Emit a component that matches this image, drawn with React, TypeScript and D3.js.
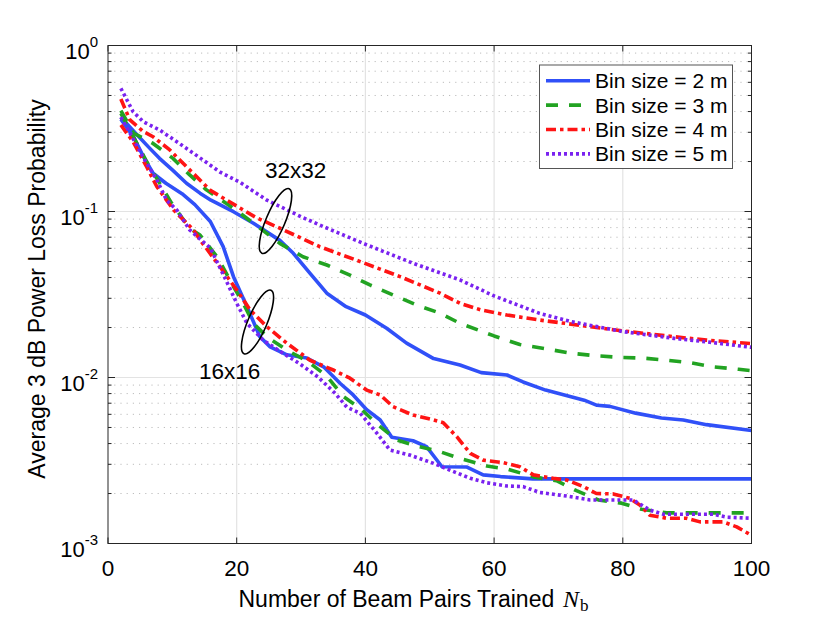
import React from 'react';
import * as d3 from 'd3';

type P = [number, number];

const xTicks = [0, 20, 40, 60, 80, 100];
const yDecades = [-3, -2, -1, 0];
const legendLabels = ['Bin size = 2 m', 'Bin size = 3 m', 'Bin size = 4 m', 'Bin size = 5 m'];
const groupLabels = ['32x32', '16x16'];

// 32x32 antenna arrays
const blue32: P[] = [[2,0.37],[4.5,0.29],[6.5,0.24],[8,0.209],[10,0.178],[12.2,0.148],[14.3,0.129],[16,0.117],[19.5,0.0997],[22.6,0.085],[26.7,0.067],[28.8,0.056],[31.4,0.0424],[34,0.0322],[37,0.0267],[40,0.0238],[43.3,0.0198],[46.4,0.0161],[50.6,0.013],[54.7,0.0119],[58,0.0107],[62,0.01035],[64.5,0.0094],[68,0.0084],[74,0.0073],[76,0.0068],[78,0.0067],[82,0.0061],[86,0.0057],[89.4,0.00555],[93,0.0052],[100,0.0048]];
const green32: P[] = [[2,0.405],[4,0.296],[7,0.257],[10.1,0.209],[12.7,0.166],[15.3,0.135],[19.5,0.1046],[22.6,0.085],[26.7,0.0643],[30.3,0.0534],[34,0.0476],[37.6,0.0414],[40.7,0.0361],[44.3,0.0314],[48,0.0273],[51.6,0.0244],[54.7,0.0212],[60,0.0178],[64,0.0158],[68.4,0.0148],[72,0.014],[76,0.0135],[80,0.0132],[83,0.0131],[87,0.0127],[90.4,0.0123],[94,0.0116],[98,0.0112],[100,0.011]];
const red32: P[] = [[2,0.476],[3.4,0.356],[5.5,0.303],[7,0.282],[9.6,0.235],[12.2,0.186],[14.8,0.148],[15.9,0.134],[20.5,0.105],[23,0.092],[26.8,0.079],[32.9,0.0614],[39.2,0.0499],[45.4,0.0405],[51.6,0.0322],[54.7,0.028],[58,0.0255],[62,0.0238],[67,0.0222],[71,0.0212],[75,0.0202],[80,0.0191],[88,0.0176],[93,0.0168],[100,0.016]];
const purple32: P[] = [[2,0.552],[3.9,0.399],[5.5,0.347],[8,0.31],[10.7,0.263],[13.3,0.224],[15.9,0.19],[17.5,0.172],[20.5,0.15],[24.7,0.117],[27.2,0.105],[30,0.093],[33.5,0.081],[40.2,0.063],[47.4,0.0488],[54.7,0.0387],[60,0.031],[67,0.0244],[72,0.0217],[80,0.0189],[88,0.0172],[93,0.0164],[100,0.0152]];

// 16x16 antenna arrays
const blue16: P[] = [[2,0.36],[4,0.28],[5.5,0.214],[7,0.17],[9,0.148],[11.5,0.128],[13.5,0.11],[15.9,0.087],[17.9,0.0614],[19.5,0.0405],[21.6,0.0267],[23.6,0.0176],[25.2,0.0153],[27.8,0.0137],[30.9,0.0131],[33.5,0.0116],[36.1,0.0092],[38.1,0.00785],[40.2,0.0064],[42.3,0.00555],[44.1,0.00436],[47.4,0.00416],[49.5,0.00383],[51.9,0.0029],[55.7,0.00289],[58.3,0.00259],[61,0.00253],[66,0.00245],[100,0.00245]];
const green16: P[] = [[2,0.39],[4,0.28],[6,0.2],[9.9,0.112],[12.7,0.079],[14.3,0.0722],[17.1,0.0523],[19.5,0.0353],[21,0.028],[22.6,0.0212],[24.7,0.0176],[27.8,0.0146],[30.9,0.0126],[34,0.0102],[36.6,0.00766],[39.2,0.00652],[42,0.00517],[44.9,0.0042],[48,0.00387],[51.6,0.00357],[55.2,0.00321],[58.9,0.00293],[62.2,0.0028],[66.1,0.00252],[69.7,0.00239],[72.8,0.00208],[76.2,0.00183],[79.8,0.00175],[82.9,0.00161],[86.8,0.00153],[100,0.00153]];
const red16: P[] = [[2,0.332],[3.9,0.263],[6,0.186],[7.6,0.141],[10.2,0.102],[13.3,0.0774],[14.3,0.0674],[17.4,0.0465],[20,0.0337],[22.1,0.0255],[24.7,0.0202],[27.8,0.0161],[31.4,0.0127],[35,0.0111],[37.6,0.0099],[40.2,0.0084],[42.3,0.00785],[44.3,0.00667],[47.4,0.00594],[50.6,0.00555],[52.1,0.00534],[54.2,0.0044],[56.3,0.00349],[58.3,0.00318],[61.4,0.00307],[64,0.0029],[66.1,0.00259],[69.2,0.00247],[71.3,0.00241],[73.9,0.0022],[75.9,0.002],[78.5,0.00199],[81.1,0.00187],[82.7,0.0017],[84.2,0.00148],[86.8,0.00142],[89.9,0.00142],[92,0.00135],[95.6,0.00135],[97.7,0.00126],[100,0.00112]];
const purple16: P[] = [[2,0.37],[4,0.27],[6,0.195],[7.6,0.155],[9.1,0.117],[10.7,0.102],[12.7,0.0774],[15.9,0.0603],[18.4,0.0381],[20,0.028],[21.6,0.0212],[24.1,0.0168],[27.2,0.014],[29.8,0.0121],[32.6,0.0101],[35.3,0.00803],[37.1,0.00664],[39.2,0.00609],[41.8,0.00461],[43.8,0.00366],[46.9,0.00341],[50.6,0.00304],[53.1,0.00277],[56.3,0.00247],[58.9,0.00232],[62,0.00222],[64.5,0.0022],[67.1,0.00203],[71.3,0.00193],[74.9,0.00183],[81.6,0.00183],[84.2,0.00159],[86.3,0.0015],[94.1,0.0015],[96.2,0.00144],[100,0.00142]];

const FONT = "'Liberation Sans', Arial, Helvetica, sans-serif";
const styles = [
  { color: '#3050f8', dash: 'none' },
  { color: '#22a322', dash: '12,11' },
  { color: '#ff1414', dash: '10,4,3.5,4' },
  { color: '#7a22f0', dash: '3,3' },
];

export default function App() {
  const W = 830, H = 623;
  const L = 108, R = 751.5, T = 45.5, B = 543.5;
  const x = d3.scaleLinear().domain([0, 100]).range([L, R]);
  const y = d3.scaleLog().domain([1e-3, 1]).range([B, T]);
  const line = d3.line<P>().x(d => x(d[0])).y(d => y(d[1]));

  const minors: number[] = [];
  for (const d of [-3, -2, -1]) for (let k = 2; k <= 9; k++) minors.push(k * Math.pow(10, d));

  const seriesList = [
    { data: blue32, s: styles[0] },
    { data: green32, s: styles[1] },
    { data: red32, s: styles[2] },
    { data: purple32, s: styles[3] },
    { data: blue16, s: styles[0] },
    { data: green16, s: styles[1] },
    { data: red16, s: styles[2] },
    { data: purple16, s: styles[3] },
  ];

  const legX = 539.5, legY = 65, legW = 193, legH = 103.5, rowH = 24.4;
  const LW = 3.6;

  return (
    <svg width={W} height={H} viewBox={`0 0 ${W} ${H}`} style={{ position: 'absolute', left: 0, top: 0, background: '#fff' }} fontFamily={FONT}>
      <defs>
        <clipPath id="plotclip"><rect x={L} y={T} width={R - L} height={B - T} /></clipPath>
      </defs>
      <rect x={0} y={0} width={W} height={H} fill="#fff" />
      {minors.map((v, i) => (
        <line key={'mg' + i} x1={L} x2={R} y1={y(v)} y2={y(v)} stroke="#bdbdbd" strokeWidth={1} strokeDasharray="1.2,5" />
      ))}
      {yDecades.slice(1, 3).map(d => (
        <line key={'yg' + d} x1={L} x2={R} y1={y(Math.pow(10, d))} y2={y(Math.pow(10, d))} stroke="#e3e3e3" strokeWidth={1.2} />
      ))}
      {xTicks.slice(1, 5).map(t => (
        <line key={'xg' + t} x1={x(t)} x2={x(t)} y1={T} y2={B} stroke="#e3e3e3" strokeWidth={1.2} />
      ))}
      <g clipPath="url(#plotclip)">
        {seriesList.map((sr, i) => (
          <path key={'s' + i} d={line(sr.data) || ''} fill="none" stroke={sr.s.color} strokeWidth={LW} strokeDasharray={sr.s.dash} strokeLinejoin="round" />
        ))}
      </g>
      <rect x={L} y={T} width={R - L} height={B - T} fill="none" stroke="#262626" strokeWidth={1} />
      {yDecades.map(d => {
        const yy = y(Math.pow(10, d));
        return (
          <g key={'yt' + d}>
            <line x1={L} x2={L + 7} y1={yy} y2={yy} stroke="#262626" />
            <line x1={R} x2={R - 7} y1={yy} y2={yy} stroke="#262626" />
            <text x={98} y={yy + 13} textAnchor="end" fontSize={22} fill="#000">
              <tspan>10</tspan>
              <tspan dy={-12} fontSize={15}>{d === 0 ? '0' : '-' + Math.abs(d)}</tspan>
            </text>
          </g>
        );
      })}
      {minors.map((v, i) => (
        <g key={'mt' + i}>
          <line x1={L} x2={L + 3.5} y1={y(v)} y2={y(v)} stroke="#262626" />
          <line x1={R} x2={R - 3.5} y1={y(v)} y2={y(v)} stroke="#262626" />
        </g>
      ))}
      {xTicks.map(t => (
        <g key={'xt' + t}>
          <line x1={x(t)} x2={x(t)} y1={B} y2={B - 6} stroke="#262626" />
          <line x1={x(t)} x2={x(t)} y1={T} y2={T + 6} stroke="#262626" />
          <text x={x(t)} y={576} textAnchor="middle" fontSize={22.5} fill="#000">{t}</text>
        </g>
      ))}
      <text x={238.5} y={606.5} fontSize={23} fill="#000">Number of Beam Pairs Trained</text>
      <text x={563} y={606.5} fontSize={24} fontStyle="italic" fontFamily="'Liberation Serif', 'DejaVu Serif', serif" fill="#000">N</text>
      <text x={580} y={611} fontSize={17} fontFamily="'Liberation Serif', 'DejaVu Serif', serif" fill="#000">b</text>
      <text transform="translate(45,289) rotate(-90)" textAnchor="middle" fontSize={23} fill="#000">Average 3 dB Power Loss Probability</text>
      <text x={265} y={178} fontSize={22.5} fill="#000">{groupLabels[0]}</text>
      <ellipse cx={275.5} cy={221} rx={9.5} ry={35} transform="rotate(23,275.5,221)" fill="none" stroke="#000" strokeWidth={1.6} />
      <text x={199} y={379} fontSize={22.5} fill="#000">{groupLabels[1]}</text>
      <ellipse cx={257.5} cy={322} rx={9.5} ry={34.5} transform="rotate(23,257.5,322)" fill="none" stroke="#000" strokeWidth={1.6} />
      <rect x={legX} y={legY} width={legW} height={legH} fill="#fff" stroke="#555" strokeWidth={1} />
      {legendLabels.map((lab, i) => {
        const yy = 80.7 + i * rowH;
        return (
          <g key={'lg' + i}>
            <line x1={546} x2={590} y1={yy} y2={yy} stroke={styles[i].color} strokeWidth={LW} strokeDasharray={styles[i].dash} />
            <text x={595} y={yy + 7.5} fontSize={21} fill="#000">{lab}</text>
          </g>
        );
      })}
    </svg>
  );
}
